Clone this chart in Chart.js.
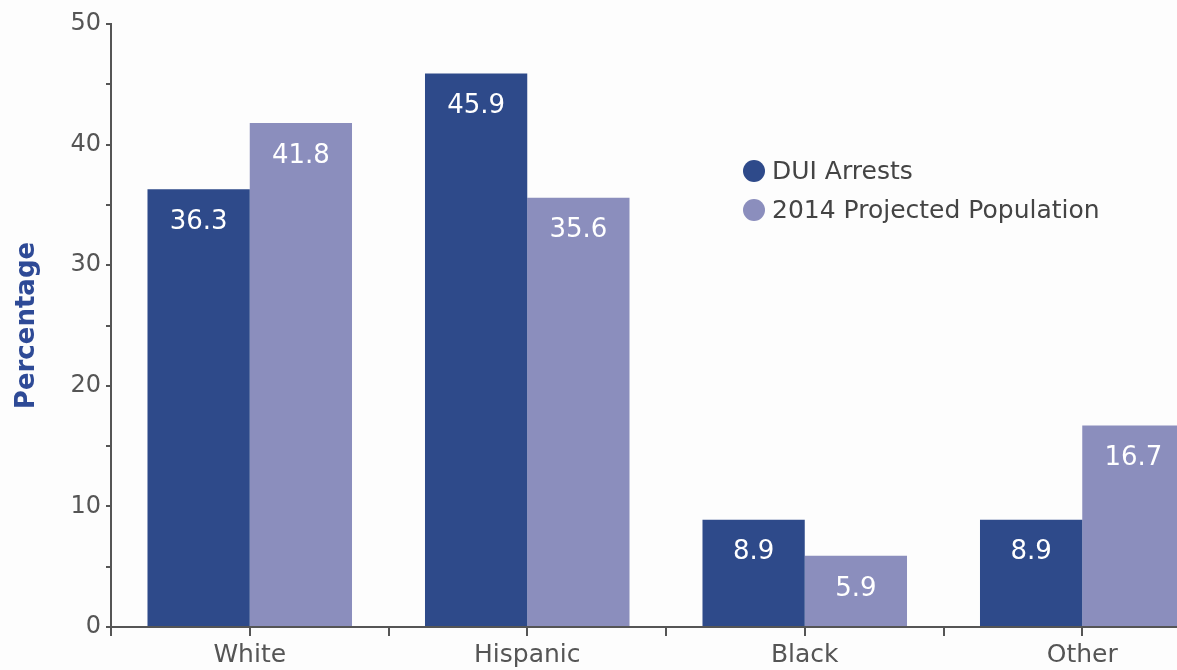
<!DOCTYPE html>
<html>
<head>
<meta charset="utf-8">
<script src="https://cdn.jsdelivr.net/npm/chart.js@4.4.1/dist/chart.umd.min.js"></script>
<style>
  html, body { margin: 0; padding: 0; background: #fdfdfd; overflow: hidden; }
  #wrap { position: relative; width: 1240px; height: 670px; }
</style>
</head>
<body>
<div id="wrap"><canvas id="chart"></canvas></div>
<script>
  // chart data
  const categories = ['White', 'Hispanic', 'Black', 'Other'];
  const duiArrests = [36.3, 45.9, 8.9, 8.9];
  const projectedPopulation = [41.8, 35.6, 5.9, 16.7];
  const seriesNames = ['DUI Arrests', '2014 Projected Population'];
  const yTicks = [0, 10, 20, 30, 40, 50];

  const darkBlue = 'rgb(46, 74, 138)';
  const lightBlue = 'rgb(139, 142, 189)';
  const axisGray = '#555555';
  const fontFamily = '"DejaVu Sans", sans-serif';

  // value labels inside the top of each bar
  const barLabels = {
    id: 'barLabels',
    afterDatasetsDraw(chart) {
      const ctx = chart.ctx;
      ctx.save();
      ctx.fillStyle = '#ffffff';
      ctx.font = '26px ' + fontFamily;
      ctx.textAlign = 'center';
      ctx.textBaseline = 'middle';
      chart.data.datasets.forEach((ds, i) => {
        chart.getDatasetMeta(i).data.forEach((bar, j) => {
          ctx.fillText(ds.data[j].toFixed(1), bar.x, bar.y + 33);
        });
      });
      ctx.restore();
    }
  };

  // extra tick marks at the centre of each category, plus the legend
  const extras = {
    id: 'extras',
    afterDraw(chart) {
      const ctx = chart.ctx;
      const x = chart.scales.x;
      const area = chart.chartArea;
      ctx.save();
      ctx.fillStyle = axisGray;
      categories.forEach((c, i) => {
        const px = Math.round(x.getPixelForValue(i));
        ctx.fillRect(px - 1, area.bottom, 2, 9);
      });

      // legend
      const lx = 754, ly = [171, 210];
      ctx.font = '25px ' + fontFamily;
      ctx.textBaseline = 'middle';
      ctx.textAlign = 'left';
      chart.data.datasets.forEach((ds, i) => {
        ctx.fillStyle = ds.backgroundColor;
        ctx.beginPath();
        ctx.arc(lx, ly[i], 11, 0, Math.PI * 2);
        ctx.fill();
        ctx.fillStyle = '#444444';
        ctx.fillText(ds.label, lx + 18, ly[i] + 1);
      });
      ctx.restore();
    }
  };

  new Chart(document.getElementById('chart'), {
    type: 'bar',
    data: {
      labels: categories,
      datasets: [
        { label: seriesNames[0], data: duiArrests, backgroundColor: darkBlue },
        { label: seriesNames[1], data: projectedPopulation, backgroundColor: lightBlue }
      ]
    },
    options: {
      responsive: true,
      maintainAspectRatio: false,
      animation: false,
      layout: { padding: { top: 24, right: 19, bottom: 0, left: 0 } },
      datasets: {
        bar: { categoryPercentage: 0.737, barPercentage: 1.0 }
      },
      plugins: {
        legend: { display: false },
        tooltip: { enabled: false }
      },
      scales: {
        x: {
          afterFit(scale) { scale.height = 43; },
          grid: {
            offset: true,
            drawOnChartArea: false,
            drawTicks: true,
            tickLength: 9,
            color: axisGray,
            lineWidth: 2
          },
          border: { color: axisGray, width: 2 },
          ticks: {
            color: axisGray,
            font: { family: fontFamily, size: 25 },
            padding: 4
          }
        },
        y: {
          min: 0,
          max: 50,
          afterFit(scale) { scale.width = 111; },
          afterBuildTicks(scale) {
            scale.ticks = [];
            for (let v = 0; v <= 50; v += 5) scale.ticks.push({ value: v });
          },
          grid: {
            drawOnChartArea: false,
            drawTicks: true,
            tickLength: 5,
            color: axisGray,
            lineWidth: 2
          },
          border: { color: axisGray, width: 2 },
          ticks: {
            color: axisGray,
            font: { family: fontFamily, size: 24 },
            padding: 5,
            callback: v => yTicks.includes(v) ? String(v) : ''
          },
          title: {
            display: true,
            text: 'Percentage',
            color: 'rgb(46, 74, 150)',
            font: { family: fontFamily, size: 26, weight: 'bold' },
            padding: { top: 12, bottom: 0 }
          }
        }
      }
    },
    plugins: [barLabels, extras]
  });
</script>
</body>
</html>
